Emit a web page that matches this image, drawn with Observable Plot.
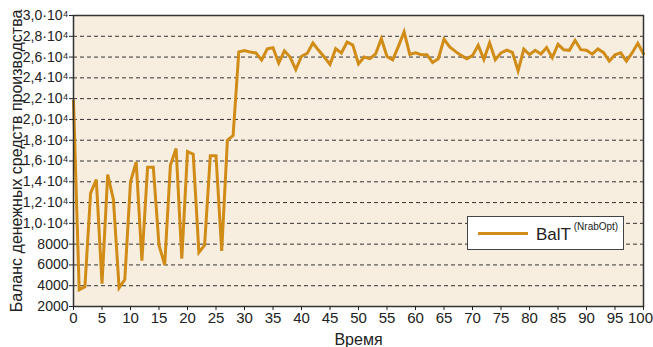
<!DOCTYPE html>
<html>
<head>
<meta charset="utf-8">
<script src="https://cdn.jsdelivr.net/npm/d3@7"></script>
<script src="https://cdn.jsdelivr.net/npm/@observablehq/plot@0.6"></script>
<style>
  html, body { margin: 0; padding: 0; background: #fff; }
  #wrap { position: relative; width: 653px; height: 347px; font-family: "Liberation Sans", Arial, sans-serif; }
  #legend { position: absolute; left: 467px; top: 216px; width: 157px; height: 34px; background: #fff; border: 1px solid #444; box-sizing: border-box; }
  #legend .swatch { position: absolute; left: 10px; top: 15px; width: 50px; height: 3px; background: #d08c16; }
  #legend .txt { position: absolute; left: 68px; top: 7px; font-size: 17px; color: #222; white-space: nowrap; }
  #legend .txt sup { font-size: 10px; position: relative; top: -3px; }
</style>
</head>
<body>
<div id="wrap"></div>
<script>
// Data
const balance = [
  21800, 3600, 3900, 12900, 14200, 4200, 14700, 12300, 3800, 4600,
  14000, 15900, 6400, 15400, 15400, 7900, 6000, 15600, 17200, 6600,
  16900, 16650, 7200, 7900, 16500, 16500, 7350, 18000, 18450, 26500,
  26620, 26480, 26400, 25720, 26800, 26900, 25420, 26600, 26000, 24800,
  26080, 26350, 27350, 26650, 26000, 25300, 26800, 26400, 27450, 27150,
  25350, 26000, 25850, 26300, 27770, 26060, 25740, 27030, 28420, 26260,
  26400, 26230, 26230, 25480, 25840, 27720, 26970, 26550, 26160, 25840,
  26140, 27130, 25780, 27370, 25740, 26400, 26670, 26450, 24680, 26760,
  26240, 26650, 26300, 26920, 25940, 27220, 26710, 26650, 27610, 26710,
  26650, 26280, 26780, 26420, 25610, 26220, 26410, 25610, 26400, 27320,
  26320
];
const time = balance.map((_, i) => i);
const xTicks = [0, 5, 10, 15, 20, 25, 30, 35, 40, 45, 50, 55, 60, 65, 70, 75, 80, 85, 90, 95, 100];
const yTicks = [2000, 4000, 6000, 8000, 10000, 12000, 14000, 16000, 18000, 20000, 22000, 24000, 26000, 28000, 30000];
const yTickLabels = ["2000", "4000", "6000", "8000", "1,0·10⁴", "1,2·10⁴", "1,4·10⁴", "1,6·10⁴", "1,8·10⁴", "2,0·10⁴", "2,2·10⁴", "2,4·10⁴", "2,6·10⁴", "2,8·10⁴", "3,0·10⁴"];
const gridValues = [4000, 6000, 8000, 10000, 12000, 14000, 16000, 18000, 20000, 22000, 24000, 26000, 28000];
const seriesName = "BalT";
const seriesSup = "(NrabOpt)";
const xLabel = "Время";
const yLabel = "Баланс денежных средств производства";

const data = time.map((t, i) => ({t, v: balance[i]}));
const lineColor = "#d08c16";

const chart = Plot.plot({
  width: 653,
  height: 347,
  marginLeft: 73,
  marginRight: 10,
  marginTop: 15,
  marginBottom: 41,
  style: {fontFamily: "'Liberation Sans', Arial, sans-serif", background: "transparent", color: "#222"},
  x: {domain: [0, 100]},
  y: {domain: [2000, 30000]},
  marks: [
    Plot.frame({fill: "#f8eee0", stroke: null}),
    Plot.ruleY(gridValues, {stroke: "#333", strokeWidth: 1, strokeDasharray: "4,3"}),
    Plot.line(data, {x: "t", y: "v", stroke: lineColor, strokeWidth: 3, strokeLinejoin: "miter", strokeMiterlimit: 4}),
    Plot.frame({stroke: "#333", strokeWidth: 1.5}),
    Plot.axisX({ticks: xTicks, tickSize: 4, tickPadding: 2, fontSize: 15, label: xLabel, labelAnchor: "center", labelArrow: "none", labelOffset: 38}),
    Plot.axisY({ticks: yTicks, tickSize: 4, tickPadding: 1, fontSize: 14, tickFormat: (d) => yTickLabels[yTicks.indexOf(d)], label: yLabel, labelAnchor: "center", labelArrow: "none", labelOffset: 63})
  ]
});
chart.querySelectorAll("g[aria-label='x-axis label'] text, g[aria-label='y-axis label'] text").forEach(t => t.setAttribute("font-size", "16"));
// nudge the last x tick label so it stays inside the picture
const xTickTexts = chart.querySelectorAll("g[aria-label='x-axis tick label'] text");
if (xTickTexts.length) xTickTexts[xTickTexts.length - 1].setAttribute("dx", "-3");
const wrap = document.getElementById("wrap");
wrap.appendChild(chart);
const legend = document.createElement("div");
legend.id = "legend";
legend.innerHTML = `<div class="swatch"></div><div class="txt">${seriesName}<sup> ${seriesSup}</sup></div>`;
wrap.appendChild(legend);
</script>
</body>
</html>
